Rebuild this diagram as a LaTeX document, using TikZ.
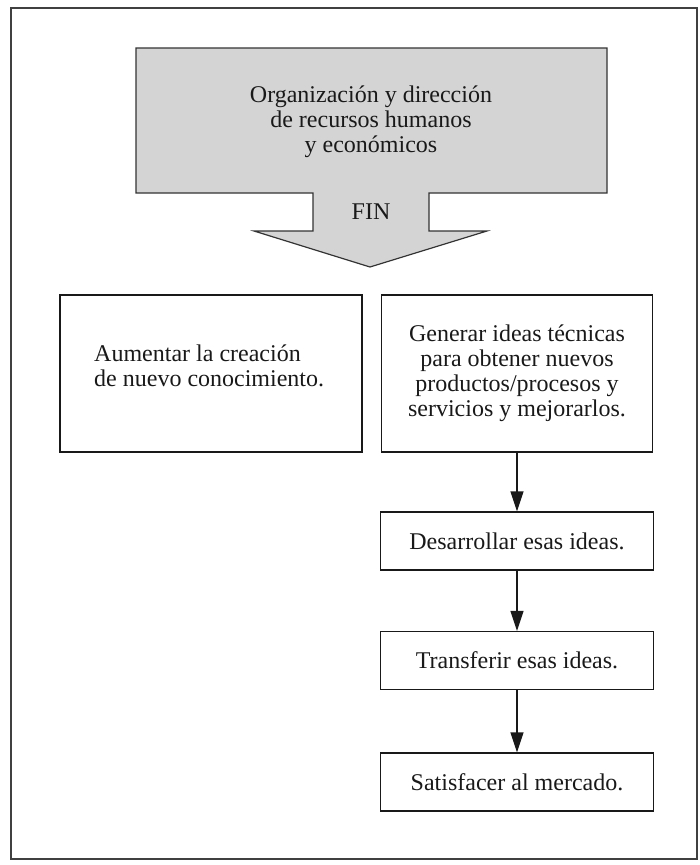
\documentclass[tikz,border=0pt]{standalone}
\usepackage{fontspec}
\setmainfont{Liberation Serif}
\usetikzlibrary{arrows.meta}
\tikzset{caja/.style={draw, line width=1.3pt, inner sep=0pt, align=center},
         flecha/.style={line width=1.3pt, -{Triangle[length=20pt,width=13pt]}}}

\begin{document}
\begin{tikzpicture}[x=1pt, y=-1pt, color=black!90, every node/.style={font=\fontsize{24}{25}\selectfont}]
            \useasboundingbox (0,0) rectangle (700,865);
            \draw [line width=1.6pt, black!75] (11,8) rectangle (697,859);
            % flecha gris
            \filldraw [fill=black!17, draw=black!80, line width=1.2pt] (136,48) -- (607,48) -- (607,193) -- (429,193) -- (429,231) -- (487,231) -- (370,267) -- (254,231) -- (313,231) -- (313,193) -- (136,193) -- cycle;
            \node [align=center] (org) at (371,122) {Organización y dirección\\de recursos humanos\\y económicos};
            \node (fin) at (371,212) {FIN};
            \node [caja, minimum width=302pt, minimum height=157pt] (aum) at (211,373.5) {};
            \node [align=left, inner sep=0pt, anchor=west] (aumtxt) at (94,366) {Aumentar la creación\\de nuevo conocimiento.};
            \node [caja, minimum width=271pt, minimum height=157pt] (gen) at (517,373.5) {Generar ideas técnicas\\para obtener nuevos\\productos/procesos y\\servicios y mejorarlos.};
            \node [caja, minimum width=273pt, minimum height=58pt] (des) at (517,541) {Desarrollar esas ideas.};
            \node [caja, minimum width=273pt, minimum height=58pt] (tra) at (517,660.5) {Transferir esas ideas.};
            \node [caja, minimum width=273pt, minimum height=58pt] (sat) at (517,782) {Satisfacer al mercado.};
            \path (gen) edge [flecha] (des);
            \path (des) edge [flecha] (tra);
            \path (tra) edge [flecha] (sat);
        \end{tikzpicture}
\end{document}
